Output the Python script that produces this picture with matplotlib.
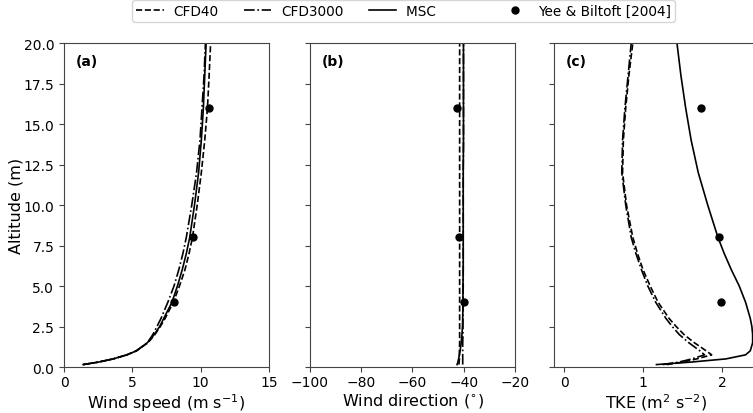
import numpy as np
from matplotlib import pyplot as plt

# altitude levels (m) shared by the model profiles
z = [0.15, 0.3, 0.5, 0.75, 1.0, 1.5, 2.0, 2.5, 3.0, 4.0, 5.0, 6.0, 7.0, 8.0, 10.0, 12.0, 14.0, 16.0, 18.0, 20.0]

# (a) wind speed (m/s)
ws_cfd40 = [1.4, 2.5, 3.6, 4.6, 5.3, 6.15, 6.65, 7.05, 7.4, 8.0, 8.45, 8.85, 9.15, 9.4, 9.75, 10.05, 10.3, 10.5, 10.62, 10.73]
ws_cfd3000 = [1.4, 2.5, 3.6, 4.6, 5.3, 6.1, 6.5, 6.8, 7.1, 7.6, 8.05, 8.4, 8.7, 8.95, 9.35, 9.7, 9.95, 10.1, 10.25, 10.35]
ws_msc = [1.4, 2.5, 3.6, 4.6, 5.3, 6.1, 6.6, 7.0, 7.3, 7.9, 8.3, 8.65, 8.95, 9.2, 9.55, 9.85, 10.05, 10.2, 10.3, 10.4]

# (b) wind direction (deg)
wd_cfd40 = [-41.9, -41.8, -41.7, -41.7, -41.7, -41.6, -41.6, -41.6, -41.6, -41.6, -41.6, -41.6, -41.6, -41.6, -41.6, -41.6, -41.6, -41.6, -41.6, -41.6]
wd_cfd3000 = [-40.4, -40.4, -40.4, -40.4, -40.4, -40.4, -40.3, -40.3, -40.3, -40.3, -40.2, -40.2, -40.2, -40.2, -40.2, -40.2, -40.1, -40.1, -40.1, -40.1]
wd_msc = [-42.6, -42.3, -42.0, -41.7, -41.4, -41.0, -40.7, -40.5, -40.4, -40.3, -40.3, -40.2, -40.2, -40.2, -40.2, -40.2, -40.1, -40.1, -40.1, -40.1]

# (c) TKE (m2/s2)
tke_cfd40 = [1.3, 1.5, 1.68, 1.87, 1.8, 1.65, 1.52, 1.42, 1.33, 1.19, 1.09, 1.0, 0.93, 0.87, 0.79, 0.74, 0.75, 0.78, 0.82, 0.87]
tke_cfd3000 = [1.25, 1.45, 1.62, 1.78, 1.72, 1.58, 1.46, 1.37, 1.29, 1.16, 1.06, 0.98, 0.91, 0.85, 0.78, 0.73, 0.74, 0.77, 0.81, 0.85]
tke_msc = [1.17, 1.6, 2.05, 2.3, 2.36, 2.39, 2.39, 2.38, 2.36, 2.3, 2.22, 2.12, 2.03, 1.95, 1.82, 1.7, 1.61, 1.54, 1.48, 1.43]

# Yee & Biltoft [2004] observations
obs_z = [4, 8, 16]
obs_ws = [8.05, 9.44, 10.63]
obs_wd = [-39.9, -41.9, -42.6]
obs_tke = [1.99, 1.96, 1.73]

fig = plt.figure(figsize=(7.53, 4.14), dpi=100)
bottom, height, width = 0.1111, 0.7826, 0.2722
lefts = [0.085, 0.4117, 0.7357]
axs = [fig.add_axes([l, bottom, width, height]) for l in lefts]

data = [(ws_cfd40, ws_cfd3000, ws_msc, obs_ws),
        (wd_cfd40, wd_cfd3000, wd_msc, obs_wd),
        (tke_cfd40, tke_cfd3000, tke_msc, obs_tke)]
xlims = [(0, 15), (-100, -20), (-0.13, 2.47)]
xlabels = ['Wind speed (m s$^{-1}$)', r'Wind direction ($^{\circ}$)', 'TKE (m$^2$ s$^{-2}$)']
xticks = [[0, 5, 10, 15], [-100, -80, -60, -40, -20], [0, 1, 2]]
tags = ['(a)', '(b)', '(c)']

for i, ax in enumerate(axs):
    c40, c3000, msc, obs = data[i]
    l1, = ax.plot(c40, z, 'k--', lw=1.2, label='CFD40')
    l2, = ax.plot(c3000, z, 'k-.', lw=1.2, label='CFD3000')
    l3, = ax.plot(msc, z, 'k-', lw=1.2, label='MSC         ')
    l4, = ax.plot(obs, obs_z, 'ko', ms=5, linestyle='none', label='Yee & Biltoft [2004]')
    ax.set_xlim(*xlims[i])
    ax.set_ylim(0, 20)
    ax.set_xticks(xticks[i])
    ax.set_yticks(np.arange(0, 20.1, 2.5))
    ax.set_xlabel(xlabels[i], fontsize=11.5, labelpad=1.5)
    ax.tick_params(labelsize=10, color='#444444')
    ax.tick_params(axis='x', pad=2.5)
    for sp in ax.spines.values():
        sp.set_color('#444444')
    ax.text(0.055, 0.945, tags[i], transform=ax.transAxes, fontsize=10,
            fontweight='bold', va='center')
    if i > 0:
        ax.set_yticklabels([])

axs[0].set_ylabel('Altitude (m)', fontsize=11.5, labelpad=0)

# the legend sits a little right of centre (original figure was wider than this crop)
fig.legend(handles=[l1, l2, l3, l4], loc='upper center', bbox_to_anchor=(0.536, 0.998),
           ncol=4, fontsize=9.8, columnspacing=1.9, handlelength=2.0,
           handletextpad=0.7, borderpad=0.3, borderaxespad=0)

fig.savefig('out.png', dpi=100)
